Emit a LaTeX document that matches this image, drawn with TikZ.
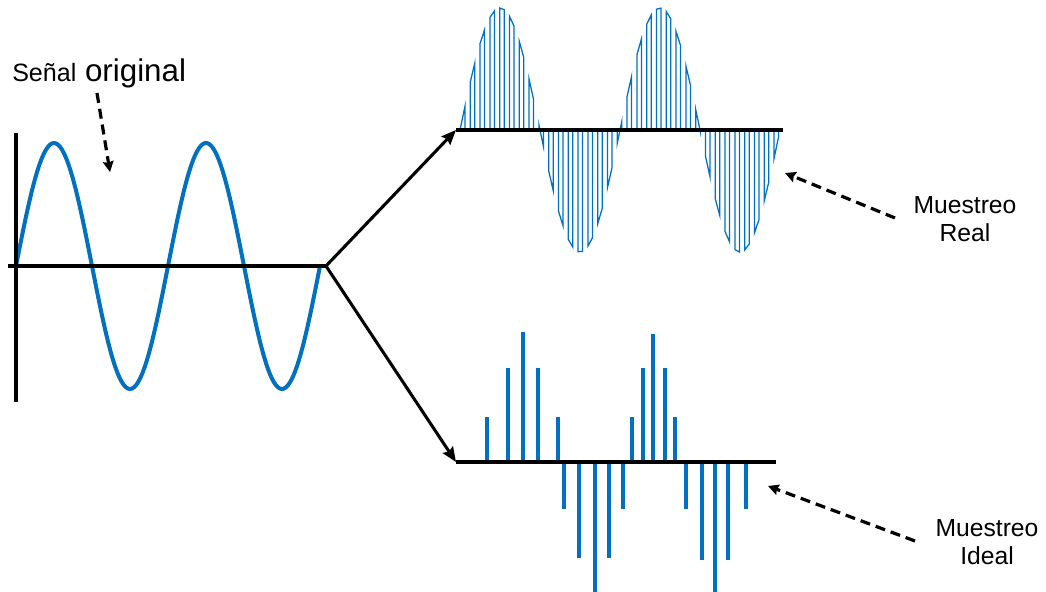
\documentclass[tikz,border=0pt]{standalone}
\usepackage{fontspec}
\setmainfont{Liberation Sans}
\usetikzlibrary{arrows.meta}
\definecolor{sigblue}{RGB}{0,112,192}
\begin{document}
\begin{tikzpicture}[x=0.75pt,y=-0.75pt,
  axisline/.style={line width=2.3pt, black},
  mainarrow/.style={line width=2.3pt, black, -{Stealth[length=11pt,width=9pt,inset=1.5pt]}},
  dasharrow/.style={line width=2.4pt, black, dash pattern=on 7.5pt off 4.5pt, -{Stealth[length=8pt,width=8pt,inset=1pt]}},
  sine/.style={line width=3pt, sigblue, line cap=round, line join=round},
  pulse/.style={line width=0.95pt, sigblue, line join=miter},
  impulse/.style={line width=2.3pt, sigblue},
  caption/.style={font=\fontsize{18.5}{21}\selectfont, align=center, inner sep=0pt}]
\useasboundingbox (0,0) rectangle (1046,592);

% ---------- original signal ----------
\coordinate (branch) at (326,266);
\coordinate (haxstart) at (8,266);
\coordinate (vaxtop) at (16,133);
\coordinate (vaxbot) at (16,402);
\draw[sine] plot[domain=16:320, samples=160, smooth] (\x, {266 - 123*sin((\x-16)*2.368421)});
\draw[axisline] (vaxtop) -- (vaxbot);
\draw[axisline] (haxstart) -- (branch);

% ---------- real sampling ----------
\coordinate (topstart) at (456,130);
\coordinate (topend) at (783,130);
\foreach \k in {0,...,32}{
  \pgfmathsetmacro{\xa}{460.5+9.8*\k}
  \pgfmathsetmacro{\xb}{\xa+4.5}
  \pgfmathsetmacro{\ya}{130-122*sin((\xa-460)*2.25)}
  \pgfmathsetmacro{\yb}{130-122*sin((\xb-460)*2.25)}
  \draw[pulse] (\xa,130) -- (\xa,\ya) -- (\xb,\yb) -- (\xb,130);
}
\draw[axisline] (topstart) -- (topend);

% ---------- ideal sampling ----------
\coordinate (botstart) at (456,462);
\coordinate (botend) at (776,462);
\foreach \xx/\yy in {487/417, 508/368, 523/332, 538/368, 558/417,
                     564/509, 579/558, 595/592, 609/558, 623/509,
                     632/417, 643/368, 653/334, 665/368, 675/417,
                     686/509, 702/560, 715/592, 728/560, 746/509}{
  \draw[impulse] (\xx,462) -- (\xx,\yy);
}
\draw[axisline] (botstart) -- (botend);

% ---------- branch arrows ----------
\draw[mainarrow] (branch) -- (topstart);
\draw[mainarrow] (branch) -- (botstart);

% ---------- labels ----------
\node[inner sep=0pt, anchor=base west] (senal) at (12,82)
  {{\fontsize{18.8}{21}\selectfont Señal}\hspace{6.5pt}{\fontsize{23.5}{27}\selectfont original}};
\node[caption] (real) at (965,219) {Muestreo\\Real};
\node[caption] (ideal) at (987,542) {Muestreo\\Ideal};

\coordinate (senalfrom) at (97,93);
\coordinate (senalto) at (110,172);
\coordinate (realfrom) at (895,218);
\coordinate (realto) at (785,173);
\coordinate (idealfrom) at (915,541);
\coordinate (idealto) at (768,486);
\draw[dasharrow] (senalfrom) -- (senalto);
\draw[dasharrow] (realfrom) -- (realto);
\draw[dasharrow] (idealfrom) -- (idealto);
\end{tikzpicture}
\end{document}
